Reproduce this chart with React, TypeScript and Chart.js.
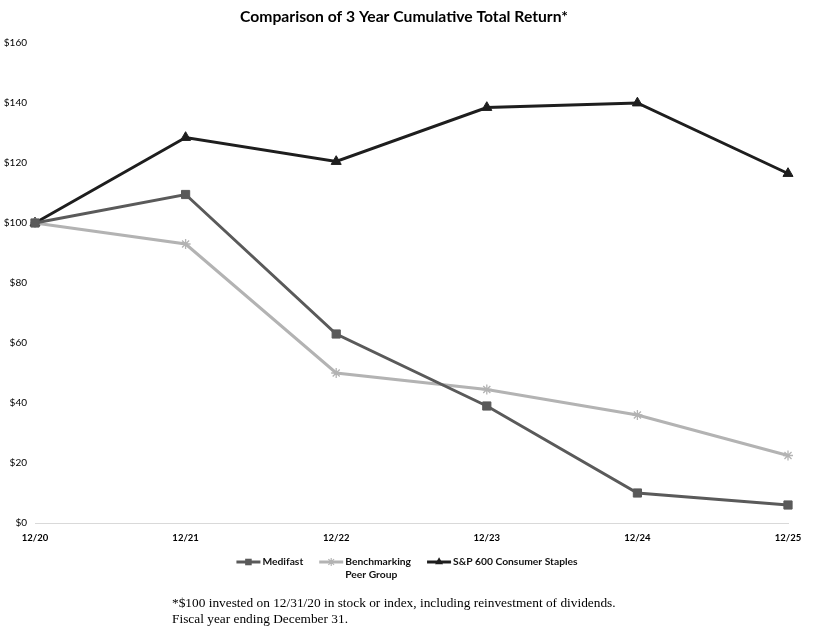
import React, { useEffect, useRef } from 'react';
import { Chart, registerables } from 'chart.js';

Chart.register(...registerables);

const categories = ['12/20', '12/21', '12/22', '12/23', '12/24', '12/25'];
const medifast = [100, 109.5, 63, 39, 10, 6];
const peerGroup = [100, 93, 50, 44.5, 36, 22.5];
const sp600 = [100, 128.5, 120.5, 138.5, 140, 116.5];
const titleText = 'Comparison of 3 Year Cumulative Total Return*';
const footnoteLines = [
  '*$100 invested on 12/31/20 in stock or index, including reinvestment of dividends.',
  'Fiscal year ending December 31.',
];

const FONT = 'Lato, "Noto Sans", sans-serif';

const seriesDefs = [
  { label: ['Medifast'], data: medifast, color: '#5a5a5a', pointStyle: 'rect', radius: 5.8 },
  { label: ['Benchmarking', 'Peer Group'], data: peerGroup, color: '#b3b3b3', pointStyle: 'star', radius: 5 },
  { label: ['S&P 600 Consumer Staples'], data: sp600, color: '#1e1e1e', pointStyle: 'triangle', radius: 5.8 },
];

function drawMarker(ctx: CanvasRenderingContext2D, style: string, x: number, y: number, r: number) {
  ctx.beginPath();
  if (style === 'rect') {
    const s = Math.SQRT1_2 * r;
    ctx.rect(x - s, y - s, 2 * s, 2 * s);
    ctx.fill();
  } else if (style === 'triangle') {
    ctx.moveTo(x, y - r);
    ctx.lineTo(x + r * 0.866, y + r * 0.5);
    ctx.lineTo(x - r * 0.866, y + r * 0.5);
    ctx.closePath();
    ctx.fill();
  } else {
    for (let k = 0; k < 4; k++) {
      const a = (Math.PI / 4) * k;
      ctx.moveTo(x - Math.cos(a) * r, y - Math.sin(a) * r);
      ctx.lineTo(x + Math.cos(a) * r, y + Math.sin(a) * r);
    }
    ctx.stroke();
  }
}

const titleLegendPlugin = {
  id: 'titleLegend',
  afterDraw(chart: any) {
    const ctx = chart.ctx as CanvasRenderingContext2D;
    ctx.save();
    // title
    ctx.font = `bold 15.7px ${FONT}`;
    ctx.fillStyle = '#000';
    ctx.textAlign = 'center';
    ctx.textBaseline = 'middle';
    ctx.fillText(titleText, 404, 17);
    // legend
    ctx.font = `bold 10.3px ${FONT}`;
    ctx.textAlign = 'left';
    const lineLen = 24;
    const gap = 2;
    const itemGap = 16;
    const widths = seriesDefs.map((s) => lineLen + gap + Math.max(...s.label.map((t) => ctx.measureText(t).width)));
    const total = widths.reduce((a, b) => a + b, 0) + itemGap * (widths.length - 1);
    let x = 407 - total / 2;
    const y = 562;
    seriesDefs.forEach((s, i) => {
      ctx.strokeStyle = s.color;
      ctx.fillStyle = s.color;
      ctx.lineWidth = 3;
      ctx.beginPath();
      ctx.moveTo(x, y);
      ctx.lineTo(x + lineLen, y);
      ctx.stroke();
      ctx.lineWidth = 1.2;
      drawMarker(ctx, s.pointStyle, x + lineLen / 2, y, s.radius * 0.8);
      ctx.fillStyle = '#111';
      s.label.forEach((t, j) => ctx.fillText(t, x + lineLen + gap, y + j * 13));
      x += widths[i] + itemGap;
    });
    ctx.restore();
  },
};

export default function App() {
  const ref = useRef<HTMLCanvasElement>(null);
  useEffect(() => {
    if (!ref.current) return;
    const chart = new Chart(ref.current, {
      type: 'line',
      data: {
        labels: categories,
        datasets: seriesDefs.map((s) => ({
          label: s.label.join(' '),
          data: s.data,
          borderColor: s.color,
          backgroundColor: s.color,
          borderWidth: 3,
          pointStyle: s.pointStyle as any,
          pointRadius: s.radius,
          pointBorderWidth: s.pointStyle === 'star' ? 1.3 : 1,
          pointBorderColor: s.color,
          pointBackgroundColor: s.color,
          tension: 0,
          fill: false,
        })),
      },
      options: {
        responsive: false,
        animation: false,
        layout: { padding: { left: 0, right: 32, top: 43, bottom: 83 } },
        plugins: {
          legend: { display: false },
          tooltip: { enabled: false },
          title: { display: false },
        },
        scales: {
          x: {
            type: 'category',
            offset: false,
            grid: { display: false, drawTicks: false },
            border: { display: true, color: '#d9d9d9', width: 1 },
            ticks: {
              color: '#000',
              font: { family: FONT, size: 9.5, weight: 'bold' },
              padding: 9,
              maxRotation: 0,
              autoSkip: false,
            },
            afterFit: (scale: any) => {
              scale.height = 30;
            },
          },
          y: {
            min: 0,
            max: 160,
            grid: { display: false, drawTicks: false },
            border: { display: false },
            ticks: {
              stepSize: 20,
              color: '#000',
              font: { family: FONT, size: 10 },
              padding: 8,
              callback: (v: any) => '$' + v,
            },
            afterFit: (scale: any) => {
              scale.width = 35;
            },
          },
        },
      },
      plugins: [titleLegendPlugin],
    });
    return () => chart.destroy();
  }, []);

  return (
    <div style={{ position: 'absolute', left: 0, top: 0, width: 820, height: 636, background: '#fff' }}>
      <canvas ref={ref} width={820} height={636} style={{ display: 'block' }} />
      <div
        style={{
          position: 'absolute',
          left: 172,
          top: 595,
          fontFamily: '"Liberation Serif", "DejaVu Serif", serif',
          fontSize: 13.35,
          lineHeight: '16px',
          color: '#000',
          whiteSpace: 'nowrap',
        }}
      >
        {footnoteLines.map((t, i) => (
          <div key={i}>{t}</div>
        ))}
      </div>
    </div>
  );
}
